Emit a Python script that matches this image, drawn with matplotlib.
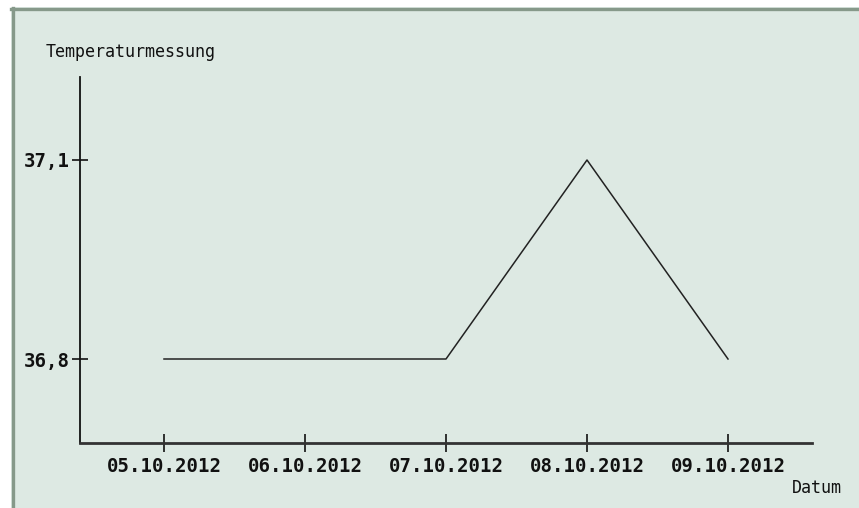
import matplotlib
matplotlib.use("Agg")
import matplotlib.pyplot as plt
from matplotlib.patches import Rectangle
from matplotlib.lines import Line2D

# Temperature readings per day
dates = ["05.10.2012", "06.10.2012", "07.10.2012", "08.10.2012", "09.10.2012"]
temps = [36.8, 36.8, 36.8, 37.1, 36.8]
ytick_values = [36.8, 37.1]
ytick_labels = ["36,8", "37,1"]

W, H = 859, 508
fig = plt.figure(figsize=(W / 100, H / 100), dpi=100)
fig.patch.set_facecolor("white")

# Panel background with a darker frame on the left and top
bg = "#dde9e3"
frame = "#86998a"
fig.patches.append(Rectangle((11 / W, 0), 1 - 11 / W, 1 - 7 / H,
                             transform=fig.transFigure, facecolor=bg,
                             edgecolor="none", zorder=-2))
fig.lines.append(Line2D([12.5 / W, 12.5 / W], [0, 1 - 7.5 / H],
                        transform=fig.transFigure, color=frame, lw=2.4, zorder=-1))
fig.lines.append(Line2D([11 / W, 1], [1 - 8.5 / H, 1 - 8.5 / H],
                        transform=fig.transFigure, color=frame, lw=2.4, zorder=-1))

# Plot area (pixel layout)
x0, x1 = 80, 812
y_top, y_bot = 77, 443
ax = fig.add_axes([x0 / W, (H - y_bot) / H, (x1 - x0) / W, (y_bot - y_top) / H])
ax.set_zorder(2)
ax.patch.set_alpha(0)

xs = list(range(len(dates)))
ax.plot(xs, temps, color="#222222", lw=1.1)

step = 141.0
ax.set_xlim(-(164 - x0) / step, 4 + (x1 - 728) / step)
ppu = (359 - 160) / (ytick_values[1] - ytick_values[0])
ax.set_ylim(ytick_values[0] - (y_bot - 359) / ppu, ytick_values[1] + (160 - y_top) / ppu)

for side in ("top", "right"):
    ax.spines[side].set_visible(False)
ax.spines["left"].set_color("#111111")
ax.spines["left"].set_linewidth(1.3)
ax.spines["bottom"].set_color("#333333")
ax.spines["bottom"].set_linewidth(2.0)

mono_bold = {"family": "DejaVu Sans Mono", "weight": "bold", "size": 13.7}
ax.set_xticks(xs)
ax.set_xticklabels(dates, fontdict=mono_bold, color="#111111")
ax.set_yticks(ytick_values)
ax.set_yticklabels(ytick_labels, fontdict=mono_bold, color="#111111")
ax.tick_params(axis="x", direction="inout", length=13, width=1.2, color="#111111", pad=3.5)
ax.tick_params(axis="y", direction="inout", length=12, width=1.2, color="#111111", pad=1)

mono = {"family": "DejaVu Sans Mono", "size": 12, "color": "#111111"}
fig.text(46 / W, 1 - 52 / H, "Temperaturmessung", ha="left", va="center", **mono)
fig.text(842 / W, 1 - 488 / H, "Datum", ha="right", va="center", **mono)

fig.savefig("out.png", dpi=100)
